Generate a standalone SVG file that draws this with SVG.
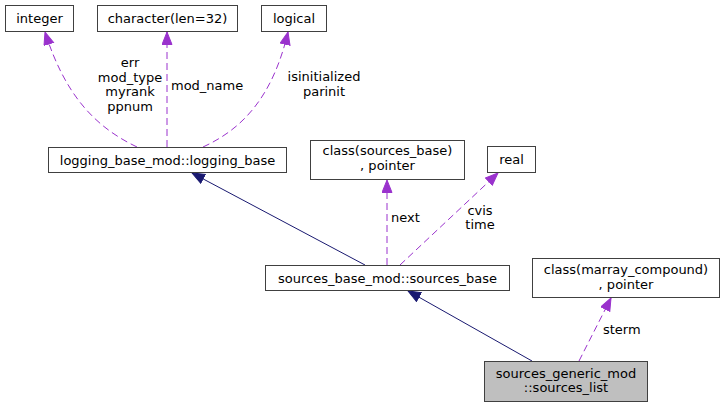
<svg xmlns="http://www.w3.org/2000/svg" width="725" height="408" viewBox="0 0 725 408">
<style>
.box{fill:#ffffff;stroke:#404040;stroke-width:1}
.hl{fill:#bfbfbf;stroke:#404040;stroke-width:1}
text{font-family:"DejaVu Sans","Liberation Sans",sans-serif;font-size:13px;fill:#000}
.c{text-anchor:middle}
.dep{fill:none;stroke:#9a32cd;stroke-width:1;stroke-dasharray:7,4}
.inh{fill:none;stroke:#191970;stroke-width:1}
</style>
<defs>
<marker id="ap" markerUnits="userSpaceOnUse" markerWidth="14" markerHeight="12" refX="13" refY="5.5" orient="auto"><path d="M0.5,0.5 L13,5.5 L0.5,10.5 z" fill="#9a32cd" stroke="#9a32cd"/></marker>
<marker id="an" markerUnits="userSpaceOnUse" markerWidth="14" markerHeight="12" refX="13" refY="5.5" orient="auto"><path d="M0.5,0.5 L13,5.5 L0.5,10.5 z" fill="#191970" stroke="#191970"/></marker>
</defs>
<rect width="725" height="408" fill="#ffffff"/>
<g id="connectors">
<path class="dep" d="M137,147 C95,127 65,95 45,32" marker-end="url(#ap)"/>
<path class="dep" d="M167,147 L167,32" marker-end="url(#ap)"/>
<path class="dep" d="M203,147 C240,130 272,100 288,32" marker-end="url(#ap)"/>
<path class="inh" d="M365,265 L192,173" marker-end="url(#an)"/>
<path class="dep" d="M387,265 L387,180" marker-end="url(#ap)"/>
<path class="dep" d="M400,265 L498,173" marker-end="url(#ap)"/>
<path class="inh" d="M532,361 L408,291" marker-end="url(#an)"/>
<path class="dep" d="M579,361 L611,298" marker-end="url(#ap)"/>
<text class="c" x="130" y="67">err</text>
<text class="c" x="130" y="81.5">mod_type</text>
<text class="c" x="130" y="96">myrank</text>
<text class="c" x="130" y="110.5">ppnum</text>
<text x="171" y="89.5">mod_name</text>
<text class="c" x="324" y="81">isinitialized</text>
<text class="c" x="324" y="95.5">parinit</text>
<text x="391" y="222">next</text>
<text class="c" x="480" y="215">cvis</text>
<text class="c" x="480" y="229">time</text>
<text x="603" y="333.5">sterm</text>
</g>
<g id="integer"><rect class="box" x="5.5" y="5.5" width="68" height="26"/><text class="c" x="39.5" y="23">integer</text></g>
<g id="character"><rect class="box" x="97.5" y="5.5" width="140" height="26"/><text class="c" x="167.5" y="23">character(len=32)</text></g>
<g id="logical"><rect class="box" x="261.5" y="5.5" width="65" height="26"/><text class="c" x="294" y="23">logical</text></g>
<g id="logging_base"><rect class="box" x="48.5" y="147.5" width="238" height="25"/><text class="c" x="167.5" y="164.5">logging_base_mod::logging_base</text></g>
<g id="class_sources_base"><rect class="box" x="310.5" y="140.5" width="154" height="39"/><text class="c" x="387.5" y="155">class(sources_base)</text><text class="c" x="387.5" y="169.5">, pointer</text></g>
<g id="real"><rect class="box" x="487.5" y="146.5" width="48" height="26"/><text class="c" x="511.5" y="164">real</text></g>
<g id="sources_base"><rect class="box" x="265.5" y="265.5" width="244" height="25"/><text class="c" x="387.5" y="282.5">sources_base_mod::sources_base</text></g>
<g id="marray_compound"><rect class="box" x="532.5" y="258.5" width="187" height="39"/><text class="c" x="626" y="274">class(marray_compound)</text><text class="c" x="626" y="288.5">, pointer</text></g>
<g id="sources_list"><rect class="hl" x="484.5" y="361.5" width="163" height="40"/><text class="c" x="566" y="377.5">sources_generic_mod</text><text class="c" x="566" y="392">::sources_list</text></g>
</svg>
